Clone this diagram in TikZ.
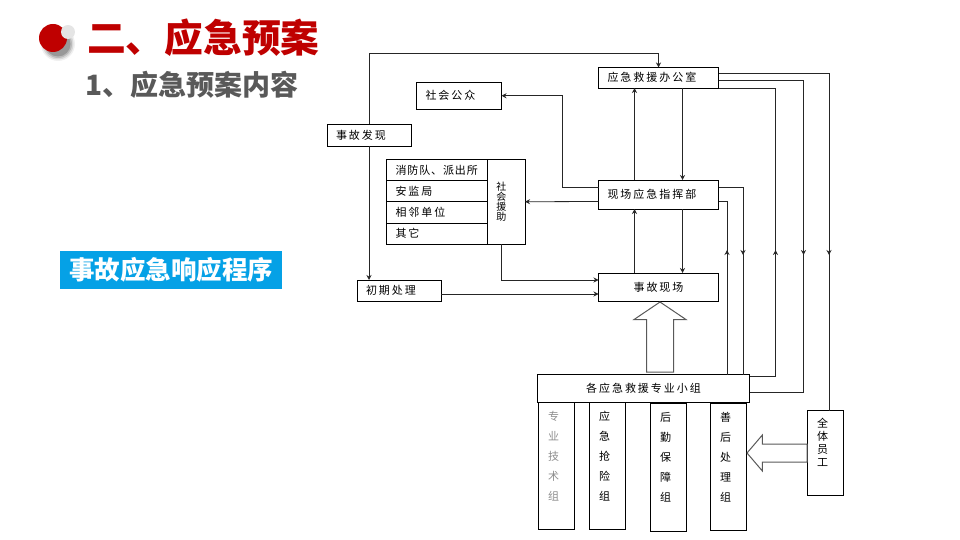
\documentclass[tikz,border=0pt]{standalone}
\usepackage{fontspec}
\setmainfont{Noto Sans CJK SC}
\newfontfamily\boxcjk[LetterSpace=18]{Noto Sans CJK SC}
\usetikzlibrary{arrows.meta, positioning, shapes.arrows, decorations.markings}
\newcommand\vc[1]{\makebox[17pt][l]{#1}}
\newcommand\vd[1]{\makebox[20pt][l]{#1}}

\begin{document}
\begin{tikzpicture}[
  x=1pt, y=-1pt,
  >={Stealth[length=5pt, width=5pt]},
  font=\boxcjk\fontsize{11}{13}\selectfont,
  box/.style     ={rectangle, draw=black, line width=0.9pt, outer sep=0pt, inner xsep=9pt, inner ysep=0pt},
  textbox/.style ={box, text width=#1, align=left},
  labelbox/.style={box, minimum width=#1, align=center},
  colbox/.style  ={box, inner xsep=0pt, text width=36pt, minimum height=127pt, align=center, font=\boxcjk\fontsize{11}{20}\selectfont},
  rowbox/.style  ={box, text width=83pt, align=left, minimum height=21.2pt},
  hollow/.style  ={single arrow, draw=black!65, line width=1pt, fill=white, outer sep=0pt, single arrow head indent=0pt, anchor=tip},
  arr/.style     ={->, line width=0.8pt, draw=black!85},
  flow/.style    ={line width=0.8pt, draw=black!85, postaction={decorate},
                   decoration={markings, mark=at position #1 with {\arrow{Stealth[length=5pt, width=5pt]}}}},
  heading/.style ={inner sep=0pt, anchor=west}
]
\useasboundingbox (0,0) rectangle (960,540);

% ---- heading ----
\foreach \r/\o in {17/0.06, 15.5/0.10, 14/0.14, 12.5/0.18}
  \fill[black, opacity=\o] (58,44) circle (\r);
\node[circle, fill=red!75!black, minimum size=28pt, inner sep=0pt] (dot) at (53,38) {};
\node[circle, fill=black!10, minimum size=14pt, inner sep=0pt] (dotlight) at (68,32) {};
\node[heading, font=\fontsize{38.7}{40}\selectfont\bfseries, text=red!75!black] (title) at (87,38) {二、应急预案};
\node[heading, font=\fontsize{28}{30}\selectfont\bfseries, text=black!65] (subtitle) at (85,85) {1、应急预案内容};
\node[rectangle, fill=cyan!90!blue, text=white, minimum width=222pt, minimum height=38pt, inner sep=0pt,
      font=\fontsize{25.5}{27}\selectfont\bfseries] (banner) at (171,270) {事故应急响应程序};

% ---- command column ----
\node[textbox=102pt, minimum height=20.5pt] (office) at (658.5,77.75) {应急救援办公室};
\node[textbox=102pt, minimum height=29pt]   (cmd)  [below=92pt of office] {现场应急指挥部};
\node[labelbox=120pt, minimum height=28pt]  (site) [below=64pt of cmd] {事故现场};

% ---- left column ----
\node[textbox=67pt, minimum height=26.5pt] (public)  at (459,95.75) {社会公众};
\node[textbox=66pt, minimum height=22pt]   (found)   at (369,135)   {事故发现};
\node[textbox=66pt, minimum height=21pt]   (initial) at (399,290.5) {初期处理};

% ---- social aid table ----
\node[rowbox] (fire) at (437,170) {\addfontfeature{LetterSpace=8}\fontsize{11}{13}\selectfont 消防队、派出所};
\node[rowbox] (safety)   [below=0pt of fire]   {安监局};
\node[rowbox] (neighbor) [below=0pt of safety] {相邻单位};
\node[rowbox] (other)    [below=0pt of neighbor] {其它};
\node[box, inner xsep=0pt, minimum width=37.5pt, minimum height=84.8pt, align=center,
      font=\boxcjk\fontsize{10}{10}\selectfont] (aid) at (506.25,201.75)
      {\vd{社}\\\vd{会}\\\vd{援}\\\vd{助}};

% ---- specialist groups ----
\node[colbox, below right=0pt and 1pt of {537.5,402.5}] (tech)
      {\textcolor{black!45}{\vc{专}\\\vc{业}\\\vc{技}\\\vc{术}\\\vc{组}\\~}};
\node[colbox, right=15pt of tech]  (rescue)  {\vc{应}\\\vc{急}\\\vc{抢}\\\vc{险}\\\vc{组}\\~};
\node[colbox, right=25pt of rescue, yshift=-1pt, minimum height=128pt] (logi) {\vc{后}\\\vc{勤}\\\vc{保}\\\vc{障}\\\vc{组}\\~};
\node[colbox, right=24pt of logi, yshift=0.5pt] (after) {\vc{善}\\\vc{后}\\\vc{处}\\\vc{理}\\\vc{组}\\~};
\node[labelbox=212pt, minimum height=28pt, fill=white] (grp) at (643.5,388.5) {各应急救援专业小组};
\node[box, inner xsep=0pt, text width=36pt, minimum height=85pt, align=center] (staff) at (825.5,453)
      {\vc{全}\\\vc{体}\\\vc{员}\\\vc{工}\\[8pt]~};

% ---- hollow arrows ----
\node[hollow, inner sep=13pt, shape border rotate=90, minimum height=70pt, minimum width=51pt, single arrow head extend=12.5pt, single arrow tip angle=112] (upflow) at (660,302) {};
\node[hollow, inner sep=8.5pt, shape border rotate=180, minimum height=60pt, minimum width=35pt, single arrow head extend=9pt, single arrow tip angle=99] (leftflow) at (747,453) {};

% ---- edges ----
\draw[arr] (found.north) |- ([yshift=14pt]office.north) -- (office.north);
\draw[arr] (found.south) -- (found.south |- initial.north);
\draw[arr] ([yshift=7.5pt]cmd.west) -- ++(-36pt,0) |- (public.east);
\draw[arr] ([yshift=-7pt]cmd.west) -- (aid.east);
\draw[arr] ([xshift=-4.5pt]aid.south) |- ([yshift=7pt]site.west);
\draw[arr] ([yshift=-3.5pt]initial.east) -- ([yshift=-7pt]site.west);
\draw[arr] ([xshift=-24pt]cmd.north) -- ([xshift=-24pt]office.south);
\draw[arr] ([xshift=24pt]office.south) -- ([xshift=24pt]cmd.north);
\draw[arr] ([xshift=-24pt]site.north) -- ([xshift=-24pt]cmd.south);
\draw[arr] ([xshift=24pt]cmd.south) -- ([xshift=24pt]site.north);

% ---- right side loops ----
\draw[flow=292pt] ([yshift=4.25pt]office.east) -| ([xshift=3.5pt]staff.north);
\draw[flow=260pt] ([yshift=-2.25pt]office.east) -- ++(85pt,0) |- ([yshift=-3.5pt]grp.east);
\draw[flow=152pt] ([yshift=12.5pt]grp.east) -- ++(26pt,0) |- (office.south east);
\draw[flow=92.5pt] ([yshift=7.5pt]cmd.east) -| ([xshift=99.5pt]grp.north);
\draw[flow=124.5pt] ([xshift=83.5pt]grp.north) |- ([yshift=-6.5pt]cmd.east);

\end{tikzpicture}
\end{document}
